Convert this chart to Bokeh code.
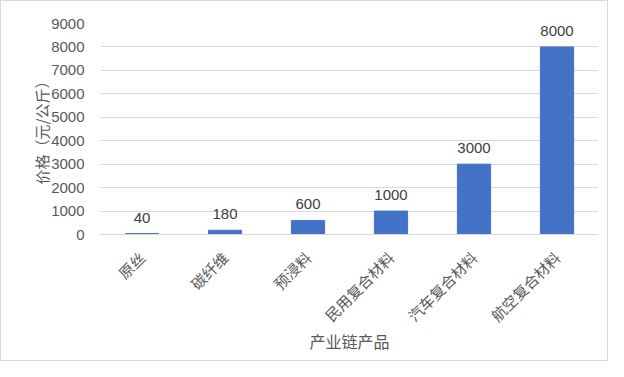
import math
from bokeh.plotting import figure
from bokeh.models import FixedTicker, ColumnDataSource
from bokeh.core.properties import value
from bokeh.embed import file_html
from bokeh.resources import INLINE

categories = ["原丝", "碳纤维", "预浸料", "民用复合材料", "汽车复合材料", "航空复合材料"]
prices = [40, 180, 600, 1000, 3000, 8000]
price_labels = ["40", "180", "600", "1000", "3000", "8000"]
y_ticks = [0, 1000, 2000, 3000, 4000, 5000, 6000, 7000, 8000, 9000]

CJK = "Noto Sans CJK SC"
NUM = "Liberation Sans"

src = ColumnDataSource(dict(cat=categories, val=prices, lab=price_labels))

p = figure(x_range=categories, y_range=(0, 9000), width=608, height=361,
           output_backend="svg", toolbar_location=None,
           min_border_left=99, min_border_right=11, min_border_top=22, min_border_bottom=128)

p.vbar(x="cat", top="val", width=0.4, source=src, color="#4472C4")
p.text(x="cat", y="val", text="lab", source=src, text_align="center", text_baseline="bottom",
       y_offset=-11, text_font=value(NUM), text_font_size="15px", text_color="#404040")

p.outline_line_color = None
p.border_fill_color = "white"
p.background_fill_color = "white"

p.yaxis.ticker = FixedTicker(ticks=y_ticks)
p.yaxis.axis_line_color = None
p.yaxis.major_tick_line_color = None
p.yaxis.minor_tick_line_color = None
p.yaxis.major_label_text_font = NUM
p.yaxis.major_label_text_font_size = "15px"
p.yaxis.major_label_text_color = "#595959"
p.yaxis.major_label_standoff = 10
p.yaxis.axis_label = "价格（元/公斤）"
p.yaxis.axis_label_text_font = CJK
p.yaxis.axis_label_text_font_size = "15px"
p.yaxis.axis_label_text_font_style = "normal"
p.yaxis.axis_label_text_color = "#595959"
p.yaxis.axis_label_standoff = -4

p.xaxis.axis_line_color = "#d9d9d9"
p.xaxis.major_tick_line_color = None
p.xaxis.minor_tick_line_color = None
p.xaxis.major_label_orientation = math.pi / 4
p.xaxis.major_label_text_font = CJK
p.xaxis.major_label_text_font_size = "15px"
p.xaxis.major_label_text_color = "#595959"
p.xaxis.major_label_standoff = 14
p.xaxis.axis_label = "产业链产品"
p.xaxis.axis_label_text_font = CJK
p.xaxis.axis_label_text_font_size = "16px"
p.xaxis.axis_label_text_font_style = "normal"
p.xaxis.axis_label_text_color = "#595959"
p.xaxis.axis_label_standoff = -7

p.xgrid.grid_line_color = None
p.ygrid.grid_line_color = "#d9d9d9"
p.ygrid.ticker = FixedTicker(ticks=y_ticks)

p.styles = {"border": "1px solid #d9d9d9"}

open("out.html", "w").write(file_html(p, INLINE))
